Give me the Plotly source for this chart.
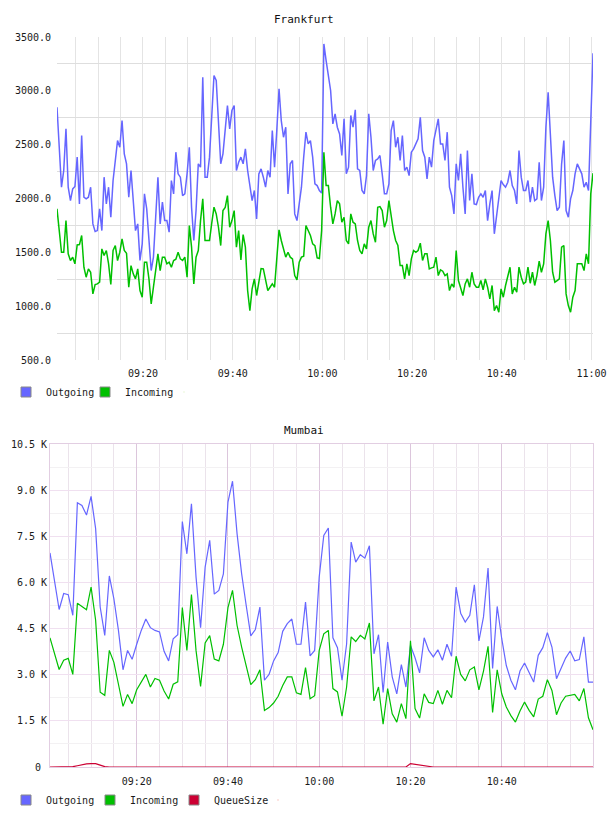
import pandas as pd
import plotly.graph_objects as go

# ---------------- data ----------------
fr_out = [2848, 2507, 2105, 2260, 2647, 2105, 1981, 2089, 2111, 2384,
          1950, 2585, 2012, 1997, 2012, 2105, 1764, 1693, 1702, 1904,
          1702, 2198, 1950, 2105, 1826, 2167, 2353, 2538, 2476, 2724,
          2415, 2322, 2012, 2260, 1981, 1702, 1764, 1424, 1579, 2043,
          1904, 1640, 1331, 1455, 1795, 2198, 1764, 1966, 1795, 1795,
          1687, 2167, 2043, 2430, 2229, 2198, 2027, 2043, 2229, 2476,
          1919, 1610, 1888, 2322, 2291, 3127, 2198, 2198, 2384, 2755,
          3142, 3096, 2637, 2322, 2415, 2631, 2863, 2647, 2817, 2863,
          2260, 2337, 2384, 2322, 2461, 2260, 2136, 1981, 2074, 1811,
          2229, 2275, 2198, 2105, 2260, 2198, 2631, 2291, 2631, 3018,
          2724, 2569, 2662, 2043, 2322, 2353, 1857, 1795, 1950, 2105,
          2384, 2616, 2507, 2538, 2384, 2136, 2120, 2074, 2050, 3436,
          3281, 3127, 3003, 2693, 2786, 2662, 2600, 2399, 2740, 2229,
          2291, 2771, 2662, 2823, 2275, 2260, 2074, 2043, 2213, 2786,
          2569, 2260, 2353, 2368, 2399, 2229, 2043, 2043, 2136, 2631,
          2724, 2476, 2569, 2353, 2585, 2260, 2291, 2213, 2430, 2461,
          2507, 2554, 2755, 2445, 2384, 2182, 2384, 2291, 2538, 2647,
          2740, 2507, 2507, 2353, 2616, 2105, 2027, 1857, 2322, 2167,
          2415, 2105, 1857, 2445, 1981, 2229, 1950, 1944, 2012, 2043,
          2012, 2074, 1795, 1950, 2074, 1672, 1857, 1981, 2167, 2130,
          2105, 2151, 2260, 2120, 2074, 1950, 2445, 2198, 2074, 2074,
          2167, 1966, 2105, 1981, 1997, 2337, 1981, 2105, 2662, 2987,
          2538, 2198, 2027, 1888, 1919, 2322, 2538, 1888, 1826, 1997,
          2074, 2229, 2322, 2275, 2229, 2105, 2151, 2074, 2786, 3349]

fr_in = [1904, 1671, 1501, 1501, 1795, 1486, 1424, 1455, 1393, 1569,
         1572, 1656, 1362, 1269, 1346, 1315, 1114, 1201, 1207, 1223,
         1532, 1470, 1517, 1393, 1201, 1517, 1563, 1424, 1501, 1625,
         1517, 1492, 1176, 1377, 1300, 1254, 1346, 1145, 1083, 1408,
         1408, 1254, 1021, 1176, 1346, 1486, 1331, 1455, 1455, 1393,
         1408, 1362, 1424, 1436, 1501, 1439, 1424, 1455, 1269, 1749,
         1548, 1207, 1455, 1517, 1795, 1997, 1610, 1610, 1610, 1771,
         1919, 1857, 1733, 1563, 1888, 1916, 2027, 1733, 1795, 1888,
         1548, 1702, 1430, 1665, 1548, 1145, 959, 1161, 1254, 1099,
         1207, 1349, 1346, 1238, 1145, 1176, 1207, 1176, 1455, 1709,
         1610, 1532, 1455, 1501, 1455, 1439, 1284, 1244, 1408, 1455,
         1464, 1749, 1709, 1656, 1579, 1563, 1449, 1442, 1702, 2430,
         2120, 2120, 1919, 1764, 1857, 1981, 1950, 1780, 1826, 1610,
         1579, 1857, 1780, 1764, 1610, 1517, 1486, 1579, 1532, 1733,
         1795, 1671, 1594, 1919, 1925, 1888, 1733, 1795, 1981, 1826,
         1702, 1610, 1563, 1377, 1377, 1254, 1393, 1284, 1439, 1517,
         1501, 1517, 1585, 1424, 1486, 1486, 1346, 1356, 1362, 1455,
         1284, 1337, 1325, 1284, 1300, 1145, 1207, 1176, 1517, 1238,
         1176, 1099, 1207, 1254, 1176, 1315, 1207, 1176, 1176, 1238,
         1151, 1254, 1176, 1068, 1192, 959, 1006, 944, 1161, 1083,
         1192, 1284, 1362, 1114, 1176, 1130, 1362, 1269, 1207, 1223,
         1362, 1213, 1315, 1192, 1284, 1418, 1315, 1393, 1671, 1795,
         1610, 1315, 1223, 1238, 1254, 1548, 1563, 1114, 1006, 944,
         1083, 1145, 1393, 1393, 1393, 1331, 1486, 1393, 2043, 2235]

mu_out = [6960, 5960, 5120, 5640, 5600, 4930, 8590, 8500, 8190, 8800,
          7750, 5200, 4280, 6210, 5470, 4440, 3160, 3790, 3500, 3990,
          4440, 4810, 4530, 4440, 4390, 3760, 3450, 4170, 4300, 7980,
          6930, 8560, 6180, 4530, 6500, 7370, 5620, 5740, 6280, 8610,
          9290, 7580, 6280, 5250, 4260, 4470, 5200, 2820, 3010, 3450,
          3720, 4410, 4660, 4810, 3990, 3990, 5360, 3610, 3790, 6180,
          7530, 7770, 4200, 3880, 2820, 4000, 7310, 6660, 6900, 6790,
          7190, 3680, 4300, 2420, 4060, 2930, 2380, 3330, 2600, 3950,
          3550, 3060, 4200, 3790, 3580, 3810, 3470, 3990, 3600, 5850,
          5000, 4710, 4930, 5920, 4100, 4880, 6470, 3200, 5220, 4170,
          3300, 2820, 2510, 3120, 3380, 3070, 2760, 3630, 3880, 4370,
          3900, 2870, 3200, 3540, 3770, 3450, 3490, 4230, 2760, 2760]

mu_in = [4200, 3680, 3170, 3470, 3530, 3010, 5320, 5220, 5110, 5850,
         4770, 2430, 2330, 3790, 3400, 2690, 1970, 2360, 2060, 2510,
         2760, 3010, 2600, 2880, 2820, 2470, 2210, 2690, 2770, 5180,
         3790, 5610, 3790, 2620, 4030, 4270, 3510, 3450, 3990, 5180,
         5740, 4600, 3900, 3300, 2680, 2840, 3160, 1840, 1930, 2080,
         2300, 2650, 2930, 2930, 2410, 2360, 3230, 2220, 2320, 3790,
         4330, 4440, 2550, 2440, 1650, 2600, 4230, 4080, 4280, 4160,
         4680, 2150, 2600, 1390, 2550, 1730, 1460, 2060, 1570, 4100,
         1900, 1590, 2380, 2100, 2060, 2490, 2040, 2490, 2250, 3600,
         3010, 2800, 3160, 3250, 2510, 3120, 3920, 1770, 3160, 2380,
         1950, 1670, 1460, 1820, 2110, 1840, 1630, 2210, 2300, 2840,
         2490, 1700, 2080, 2300, 2330, 2360, 2150, 2550, 1600, 1210]

mu_q = [0, 0, 0, 0, 0, 10, 40, 80, 100, 110,
        110, 60, 10, 0, 0, 0, 0, 0, 0, 0,
        0, 0, 0, 0, 0, 0, 0, 0, 0, 15,
        0, 0, 0, 0, 0, 0, 0, 0, 0, 0,
        0, 0, 0, 0, 0, 0, 0, 0, 0, 0,
        0, 0, 0, 0, 0, 0, 0, 0, 0, 0,
        0, 0, 0, 0, 0, 0, 0, 0, 0, 0,
        0, 0, 0, 0, 0, 0, 0, 0, 0, 110,
        90, 60, 30, 15, 0, 0, 0, 0, 0, 0,
        0, 0, 0, 0, 0, 0, 0, 0, 0, 0,
        0, 0, 0, 0, 0, 0, 0, 0, 0, 0,
        0, 0, 0, 0, 0, 0, 0, 0, 0, 0]

series_names = ["Outgoing", "Incoming", "QueueSize"]
titles = ["Frankfurt", "Mumbai"]
fr_xtick_labels = ["09:20", "09:40", "10:00", "10:20", "10:40", "11:00"]
mu_xtick_labels = ["09:20", "09:40", "10:00", "10:20", "10:40"]
mu_ytick_vals = [0, 1500, 3000, 4500, 6000, 7500, 9000, 10500]
mu_ytick_labels = ["0\u00a0", "1.5 K", "3.0 K", "4.5 K", "6.0 K", "7.5 K", "9.0 K", "10.5 K"]

DAY = "2024-01-01 "
fr_time = pd.date_range(DAY + "09:00:50", periods=len(fr_out), freq="30s")
mu_time = pd.date_range(DAY + "09:01:00", periods=len(mu_out), freq="60s")

# ---------------- style ----------------
W, H = 608, 816
BLUE, GREEN, RED = "#6666ff", "#00c000", "#cc0033"
COLORS = [BLUE, GREEN, RED]
FONT = "DejaVu Sans Mono"
tickfont = dict(family=FONT, size=10, color="#1a1a1a")

fig = go.Figure()

# Frankfurt lines
for vals, col in [(fr_out, BLUE), (fr_in, GREEN)]:
    fig.add_trace(go.Scatter(x=fr_time, y=vals, mode="lines", line=dict(color=col, width=1.5),
                             xaxis="x", yaxis="y", showlegend=False, hoverinfo="skip"))
# Mumbai lines
for vals, col in [(mu_out, BLUE), (mu_in, GREEN), (mu_q, RED)]:
    fig.add_trace(go.Scatter(x=mu_time, y=vals, mode="lines", line=dict(color=col, width=1.2),
                             xaxis="x2", yaxis="y2", showlegend=False, hoverinfo="skip"))

# legend entries (square swatches)
def swatch(name, col, leg, xa, ya):
    return go.Scatter(x=[None], y=[None], mode="markers", name=name, legend=leg,
                      marker=dict(symbol="square", size=10, color=col, line=dict(color="#888888", width=1)),
                      xaxis=xa, yaxis=ya)

for name, col in zip(series_names[:2], COLORS[:2]):
    fig.add_trace(swatch(name, col, "legend", "x", "y"))
# invisible spacer so the last label is not clipped
fig.add_trace(go.Scatter(x=[None], y=[None], mode="markers", name=" ", legend="legend",
                         marker=dict(size=1, opacity=0), xaxis="x", yaxis="y"))
for name, col in zip(series_names, COLORS):
    fig.add_trace(swatch(name, col, "legend2", "x2", "y2"))
fig.add_trace(go.Scatter(x=[None], y=[None], mode="markers", name=" ", legend="legend2",
                         marker=dict(size=1, opacity=0), xaxis="x2", yaxis="y2"))

def px_x(p):
    return p / W

def px_y(p):
    return 1 - p / H

fig.update_layout(
    width=W, height=H, autosize=False,
    margin=dict(l=0, r=0, t=0, b=0),
    paper_bgcolor="white", plot_bgcolor="white",
    xaxis=dict(domain=[px_x(57), px_x(593)], anchor="y", type="date", automargin=False,
               range=[fr_time[0], fr_time[-1]],
               tickvals=[DAY + t for t in fr_xtick_labels], ticktext=fr_xtick_labels,
               showgrid=True, gridcolor="#e4e4e4", gridwidth=1,
               minor=dict(dtick=300000, tick0=DAY + "09:00", showgrid=True, gridcolor="#e4e4e4"),
               ticks="", showline=False, zeroline=False, tickfont=tickfont, ticklabelstandoff=6),
    yaxis=dict(domain=[px_y(360), px_y(37)], anchor="x", range=[500, 3500], automargin=False,
               dtick=500, tick0=500, tickformat=".1f", showgrid=False,
               minor=dict(tick0=750, dtick=500, showgrid=True, gridcolor="#dedede"),
               ticks="", showline=False, zeroline=False, tickfont=tickfont, ticklabelstandoff=5),
    xaxis2=dict(domain=[px_x(50), px_x(593)], anchor="y2", type="date", automargin=False,
                range=[mu_time[0], mu_time[-1]],
                tickvals=[DAY + t for t in mu_xtick_labels], ticktext=mu_xtick_labels,
                showgrid=True, gridcolor="#dcc6dc", gridwidth=1,
                minor=dict(dtick=300000, tick0=DAY + "09:00", showgrid=True, gridcolor="#ebe3eb"),
                ticks="", showline=True, mirror=True, linecolor="#e2cee2", zeroline=False,
                tickfont=tickfont, ticklabelstandoff=5),
    yaxis2=dict(domain=[px_y(767), px_y(444)], anchor="x2", range=[0, 10500], automargin=False,
                tickvals=mu_ytick_vals, ticktext=mu_ytick_labels,
                showgrid=True, gridcolor="#f0e0f0",
                minor=dict(dtick=750, tick0=0, showgrid=True, gridcolor="#f3f1f3"),
                ticks="", showline=True, mirror=True, linecolor="#e2cee2", zeroline=False,
                tickfont=tickfont),
    legend=dict(orientation="h", x=px_x(6), y=px_y(392), xanchor="left", yanchor="middle",
                font=dict(family=FONT, size=10, color="#1a1a1a"), bgcolor="rgba(0,0,0,0)",
                entrywidth=34, entrywidthmode="pixels"),
    legend2=dict(orientation="h", x=px_x(6), y=px_y(800), xanchor="left", yanchor="middle",
                 font=dict(family=FONT, size=10, color="#1a1a1a"), bgcolor="rgba(0,0,0,0)",
                 entrywidth=39, entrywidthmode="pixels"),
    annotations=[
        dict(text=titles[0], x=0.5, y=px_y(19), xref="paper", yref="paper", showarrow=False,
             xanchor="center", yanchor="middle", font=dict(family=FONT, size=11, color="#111111")),
        dict(text=titles[1], x=0.5, y=px_y(430), xref="paper", yref="paper", showarrow=False,
             xanchor="center", yanchor="middle", font=dict(family=FONT, size=11, color="#111111")),
    ],
)

fig.write_html("out.html")
